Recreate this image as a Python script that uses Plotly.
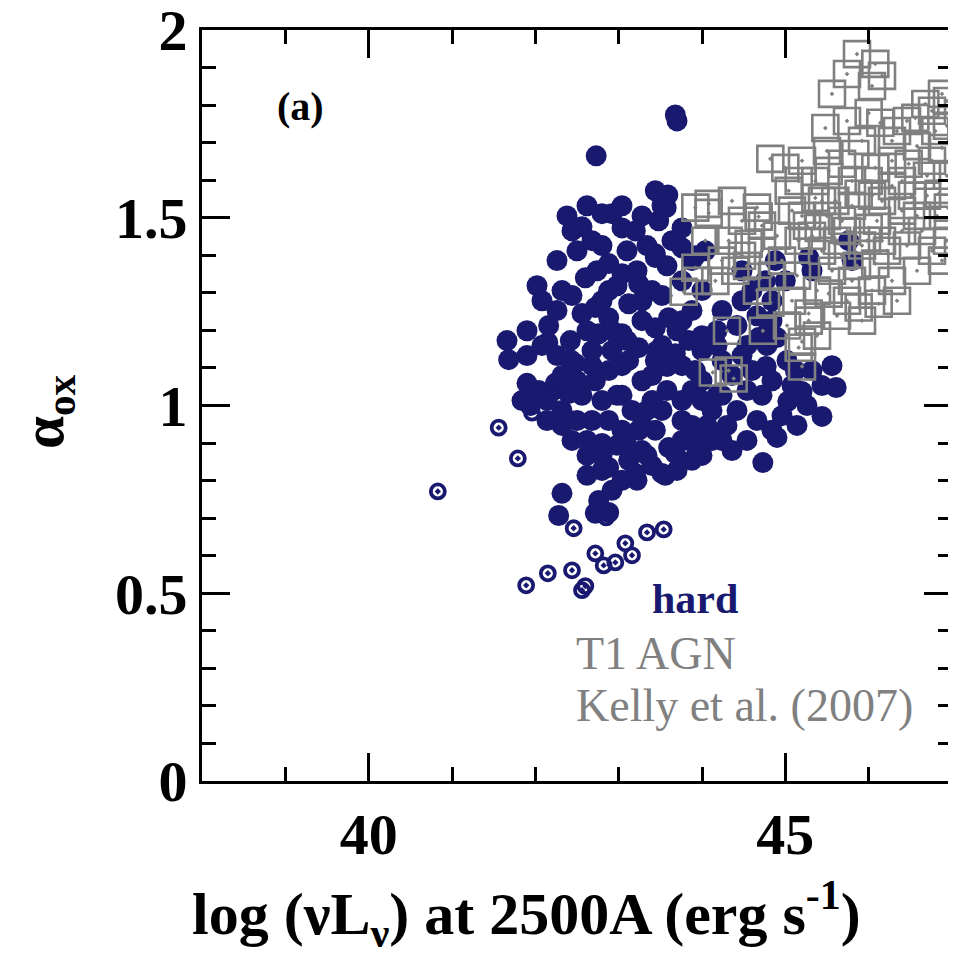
import plotly.graph_objects as go

# ---- data ----
hard_x = [43.70, 43.68, 42.73, 43.59, 43.57, 42.80, 42.92, 42.44, 42.56, 42.68,
          43.04, 43.20, 43.48, 43.44, 43.64, 42.60, 42.88, 43.04, 42.88, 43.24,
          43.40, 42.56, 42.72, 42.88, 43.12, 42.16, 41.66, 42.42, 42.76, 43.04,
          43.44, 43.60, 42.48, 42.04, 42.24, 42.40, 42.72, 42.88, 43.12, 43.24,
          43.44, 43.68, 43.84, 43.92, 42.88, 42.80, 42.88, 43.12, 43.04, 43.24,
          43.44, 43.60, 43.52, 43.68, 43.84, 42.32, 42.76, 42.72, 42.88, 42.28,
          43.56, 43.92, 44.08, 45.61, 45.44, 44.73, 44.77, 45.20, 45.03, 44.90,
          44.68, 41.68, 42.15, 42.42, 44.00, 44.18, 44.36, 44.54, 44.24, 44.48,
          44.12, 44.42, 44.66, 44.30, 43.76, 43.58, 43.40, 43.28, 43.04, 43.76,
          44.00, 44.18, 44.42, 44.66, 44.84, 44.48, 44.24, 43.88, 44.00, 43.88,
          44.04, 43.76, 43.44, 43.76, 43.44, 44.48, 44.88, 45.28, 45.32, 45.76,
          45.80, 44.76, 45.00, 44.60, 44.80, 45.12, 45.56, 44.36, 44.00, 43.28,
          42.98, 42.68, 42.56, 42.32, 42.14, 41.84, 41.90, 42.32, 42.68, 42.92,
          43.10, 43.52, 43.70, 42.08, 42.32, 42.02, 42.26, 43.58, 43.88, 44.06,
          44.54, 44.84, 44.96, 44.72, 44.84, 44.60, 44.90, 45.26, 43.76, 43.40,
          43.22, 42.80, 42.62, 42.44, 42.50, 43.16, 43.88, 44.24, 43.20, 43.92,
          41.94, 42.14, 44.84, 42.92,
          42.38, 42.62, 43.04, 43.28, 43.52, 42.50, 42.80, 43.10, 43.34, 43.58,
          42.74, 42.98, 43.22, 42.44, 42.80, 43.28, 43.52, 43.76, 42.26, 41.90,
          42.08, 42.62, 43.28, 43.76, 44.00, 41.90, 42.26, 42.68, 43.04, 43.40,
          43.76, 44.18, 44.54, 44.78, 45.02, 45.32, 45.44, 45.08, 45.14, 42.80,
          43.28, 43.52, 44.00, 43.88, 44.12, 42.80, 43.04, 42.62, 43.34, 43.70,
          42.98, 43.34, 43.10, 44.00, 44.24, 43.46, 42.92, 42.50, 42.32, 42.62]
hard_y = [1.758, 1.774, 1.665, 1.561, 1.527, 1.511, 1.511, 1.465, 1.476, 1.439,
          1.473, 1.465, 1.492, 1.394, 1.439, 1.340, 1.378, 1.351, 1.306, 1.324,
          1.306, 1.245, 1.261, 1.234, 1.271, 1.213, 1.173, 1.173, 1.191, 1.191,
          1.207, 1.234, 1.112, 1.040, 1.059, 1.032, 1.066, 1.093, 1.120, 1.154,
          1.120, 1.138, 1.173, 1.093, 0.960, 0.899, 0.835, 0.854, 0.934, 0.934,
          0.934, 0.888, 0.819, 0.872, 0.915, 0.766, 0.747, 0.713, 0.715, 0.707,
          0.814, 0.894, 0.926, 1.048, 0.971, 0.848, 1.104, 1.037, 1.011, 1.181,
          1.181, 1.122, 1.168, 1.122, 1.066, 1.027, 1.080, 1.040, 1.120, 1.133,
          0.987, 0.987, 0.960, 0.947, 1.013, 1.040, 1.013, 1.066, 1.027, 0.960,
          1.146, 1.199, 1.213, 1.239, 1.279, 1.279, 1.253, 1.253, 1.306, 1.386,
          1.412, 1.420, 1.404, 1.473, 1.572, 1.359, 1.386, 1.394, 1.359, 1.439,
          1.386, 1.332, 1.332, 1.306, 1.218, 1.093, 1.106, 0.880, 0.867, 0.880,
          0.894, 0.960, 1.027, 0.987, 1.013, 1.013, 1.059, 1.080, 1.146, 1.146,
          1.173, 1.160, 1.199, 1.279, 1.306, 1.319, 1.386, 1.104, 1.040, 0.947,
          0.907, 0.934, 0.973, 1.027, 1.066, 1.093, 0.915, 1.000, 0.907, 0.840,
          0.801, 0.827, 0.867, 0.907, 0.960, 0.987, 0.854, 0.907, 0.819, 1.399,
          1.000, 0.960, 1.226, 0.774,
          1.505, 1.532, 1.532, 1.505, 1.532, 1.412, 1.426, 1.412, 1.426, 1.372,
          1.359, 1.319, 1.359, 1.293, 1.279, 1.279, 1.293, 1.332, 1.253, 1.199,
          1.160, 1.199, 1.226, 1.226, 1.186, 1.133, 1.133, 1.106, 1.106, 1.080,
          1.106, 1.160, 1.160, 1.160, 1.120, 1.093, 1.053, 1.053, 0.947, 1.013,
          0.947, 0.987, 1.013, 0.947, 0.907, 0.867, 0.801, 0.814, 0.867, 0.827,
          1.027, 0.987, 0.894, 0.907, 1.027, 1.146, 1.199, 1.066, 0.947, 0.907]

hard_open_x = [41.96, 41.56, 41.79, 40.83, 42.46, 41.89, 42.15, 42.44, 42.60, 42.72,
               42.82, 42.96, 43.08, 43.16, 43.34, 43.54, 42.20, 42.32, 42.56, 42.85]
hard_open_y = [0.981, 0.941, 0.859, 0.771, 0.673, 0.521, 0.553, 0.561, 0.519, 0.606,
               0.574, 0.582, 0.633, 0.601, 0.662, 0.670, 1.032, 1.040, 0.508, 0.702]

kelly_x = [45.86, 45.74, 46.08, 46.16, 45.56, 46.00, 46.14, 45.48, 44.82, 45.00,
           45.16, 44.66, 44.08, 43.92, 46.88, 46.68, 46.56, 46.80, 46.88, 46.76,
           46.48, 46.28, 46.08, 45.84, 45.68, 45.52, 45.36, 44.04, 44.32, 44.56,
           43.92, 44.16, 44.40, 44.96, 45.16, 45.40, 45.68, 46.00, 46.08, 45.88,
           46.12, 45.52, 45.28, 45.16, 45.28, 44.32, 44.13, 44.38, 45.04, 45.36,
           45.60, 45.88, 46.16, 46.40, 46.84, 46.95, 44.08, 44.68, 43.95, 43.78,
           44.30, 44.73, 45.20, 45.20, 44.82, 45.44, 45.68, 45.92, 46.16, 46.40,
           46.58, 46.70, 46.94, 46.76, 46.94, 45.20, 45.56, 45.80, 45.14, 44.72,
           44.54, 46.28, 46.04, 45.44, 46.40, 46.58, 46.34, 46.00, 45.80, 45.32,
           45.62, 45.86, 46.10, 45.38, 45.74,
           45.08, 45.26, 45.50, 45.74, 45.98, 46.22, 46.46, 46.64, 46.82, 46.88,
           46.58, 46.34, 45.92, 45.62, 45.38, 45.02, 45.08, 44.84, 44.66, 44.48,
           44.24, 44.90, 44.72, 44.48, 44.36, 45.80, 46.04, 46.28, 46.52, 46.70,
           46.46, 46.76, 46.94, 46.94, 46.28, 45.92, 45.50, 45.20, 45.74, 46.04]
kelly_y = [1.936, 1.883, 1.910, 1.878, 1.830, 1.779, 1.753, 1.739, 1.657, 1.633,
           1.598, 1.527, 1.537, 1.527, 1.830, 1.803, 1.766, 1.731, 1.686, 1.652,
           1.644, 1.652, 1.633, 1.670, 1.644, 1.625, 1.598, 1.439, 1.439, 1.431,
           1.367, 1.332, 1.359, 1.386, 1.439, 1.473, 1.492, 1.473, 1.378, 1.261,
           1.271, 1.298, 1.245, 1.154, 1.226, 1.093, 1.088, 1.072, 1.572, 1.553,
           1.545, 1.564, 1.545, 1.519, 1.564, 1.527, 1.513, 1.503, 1.332, 1.303,
           1.199, 1.199, 1.170, 1.104, 1.274, 1.412, 1.399, 1.426, 1.439, 1.465,
           1.505, 1.559, 1.612, 1.412, 1.439, 1.505, 1.359, 1.332, 1.346, 1.412,
           1.372, 1.332, 1.306, 1.545, 1.598, 1.691, 1.731, 1.598, 1.532, 1.452,
           1.439, 1.372, 1.492, 1.306, 1.279,
           1.519, 1.479, 1.505, 1.465, 1.439, 1.412, 1.426, 1.465, 1.505, 1.386,
           1.359, 1.279, 1.226, 1.239, 1.186, 1.213, 1.279, 1.346, 1.306, 1.399,
           1.386, 1.452, 1.479, 1.492, 1.545, 1.598, 1.559, 1.585, 1.559, 1.612,
           1.758, 1.785, 1.745, 1.811, 1.705, 1.705, 1.678, 1.652, 1.758, 1.851]

x_range = [38, 47]
y_range = [-0.0002, 2.0002]

NAVY = "#191970"
GRAY = "#808080"
SERIF = "Liberation Serif"

fig = go.Figure()
fig.add_trace(go.Scatter(x=hard_x, y=hard_y, mode="markers",
                         marker=dict(symbol="circle", size=21, color=NAVY,
                                     line=dict(width=0)),
                         showlegend=False))
fig.add_trace(go.Scatter(x=hard_open_x, y=hard_open_y, mode="markers",
                         marker=dict(symbol="circle-open-dot", size=14, color=NAVY,
                                     line=dict(width=3.8, color=NAVY)),
                         showlegend=False))
fig.add_trace(go.Scatter(x=kelly_x, y=kelly_y, mode="markers",
                         marker=dict(symbol="square-open-dot", size=26, color=GRAY,
                                     line=dict(width=2.6, color=GRAY)),
                         showlegend=False))

axis_common = dict(showgrid=False, zeroline=False, showline=True, linecolor="black",
                   linewidth=3, mirror="allticks", ticks="inside", tickcolor="black",
                   tickwidth=2.8, ticklen=28, ticklabeloverflow="allow", automargin=False,
                   tickfont=dict(family=SERIF, size=58, color="black", weight="bold"))

fig.update_xaxes(range=x_range, tickmode="array", tickvals=[40, 45], ticktext=["40", "45"],
                 minor=dict(dtick=1, tick0=38, ticks="inside", ticklen=14,
                            tickwidth=2.8, tickcolor="black", showgrid=False),
                 **axis_common)
fig.update_yaxes(range=y_range, tickmode="array", tickvals=[0, 0.5, 1, 1.5, 2],
                 ticktext=["0", "0.5", "1", "1.5", "2"],
                 minor=dict(dtick=0.1, tick0=0, ticks="inside", ticklen=14,
                            tickwidth=2.8, tickcolor="black", showgrid=False),
                 **axis_common)

# plot-area geometry used to place the text labels (paper fractions)
L, T, W, H = 194, 22, 750, 751


def px(xp):
    return (xp - 200) / 750


def py(yp):
    return (781 - yp) / 751


ann = [
    dict(text="(a)", x=px(298), y=py(106), font=dict(size=40, weight="bold", color="black")),
    dict(text="hard", x=px(693), y=py(599), font=dict(size=42, weight="bold", color=NAVY)),
    dict(text="T1 AGN", x=px(572), y=py(653), xanchor="left", font=dict(size=46, color=GRAY)),
    dict(text="Kelly et al. (2007)", x=px(572), y=py(705), xanchor="left", font=dict(size=46, color=GRAY)),
    dict(text="log (νL<sub>ν</sub>) at 2500A (erg s<sup>-1</sup>)", x=px(524), y=py(914),
         font=dict(size=60, weight="bold", color="black")),
    dict(text="α<sub>ox</sub>", x=px(45), y=py(412), textangle=-90,
         font=dict(size=59, weight="bold", color="black")),
]
for a in ann:
    a.setdefault("xanchor", "center")
    a["xref"] = "paper"
    a["yref"] = "paper"
    a["yanchor"] = "middle"
    a["showarrow"] = False
    a["font"]["family"] = SERIF
    fig.add_annotation(**a)

fig.update_layout(width=956, height=956, plot_bgcolor="white", paper_bgcolor="white",
                  margin=dict(l=L, r=956 - L - W, t=T, b=956 - T - H, autoexpand=False),
                  showlegend=False)

fig.write_html("out.html")
